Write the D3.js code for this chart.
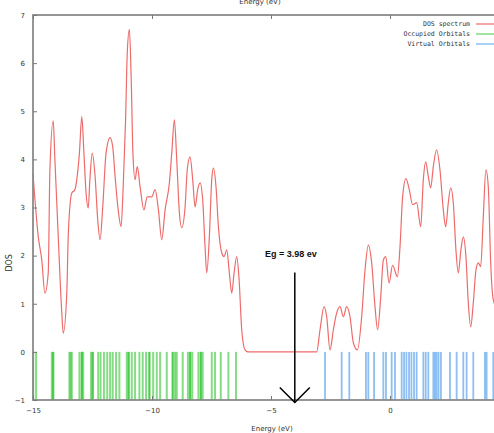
<!DOCTYPE html>
<html>
<head>
<meta charset="utf-8">
<script src="https://cdn.jsdelivr.net/npm/d3@7"></script>
<style>
  body { margin: 0; background: #fff; overflow: hidden; }
  .tick text { font-family: 'DejaVu Sans', sans-serif; font-size: 7px; fill: #333; }
  .legend text { font-family: 'DejaVu Sans Mono', monospace; font-size: 6.5px; fill: #333; }
</style>
</head>
<body>
<div id="chart"></div>
<script>
// DOS spectrum (energy in eV, DOS)
const dosEnergy = [-15.0, -14.78, -14.63, -14.5, -14.36, -14.29, -14.15, -14.08, -13.94, -13.79, -13.73,
  -13.58, -13.52, -13.37, -13.24, -13.16, -13.05, -12.95, -12.86, -12.77, -12.68, -12.61, -12.51, -12.39,
  -12.28, -12.18, -12.07, -11.93, -11.76, -11.65, -11.55, -11.42, -11.3, -11.21, -11.11, -11.04, -10.95,
  -10.87, -10.8, -10.71, -10.62, -10.5, -10.34, -10.2, -10.01, -9.87, -9.73, -9.59, -9.45, -9.27, -9.17,
  -9.06, -8.96, -8.85, -8.75, -8.61, -8.52, -8.4, -8.29, -8.19, -8.08, -7.98, -7.87, -7.77, -7.7, -7.59,
  -7.49, -7.42, -7.31, -7.21, -7.07, -6.97, -6.86, -6.75, -6.65, -6.55, -6.44, -6.34, -6.23, -6.09, -5.97,
  -3.08, -2.94, -2.77, -2.66, -2.52, -2.38, -2.24, -2.1, -1.96, -1.82, -1.68, -1.54, -1.37, -1.19, -1.05,
  -0.91, -0.77, -0.63, -0.52, -0.39, -0.28, -0.18, -0.04, 0.11, 0.31, 0.42, 0.53, 0.67, 0.81, 0.95, 1.12,
  1.29, 1.4, 1.5, 1.61, 1.71, 1.82, 1.96, 2.1, 2.24, 2.34, 2.45, 2.55, 2.66, 2.77, 2.87, 2.98, 3.08, 3.19,
  3.29, 3.39, 3.5, 3.61, 3.71, 3.81, 3.92, 4.03, 4.13, 4.23, 4.34, 4.5];
const dosValue = [3.7, 2.4, 1.9, 1.22, 1.64, 3.78, 4.8, 4.0, 2.4, 0.81, 0.39,
  1.22, 2.4, 3.3, 3.37, 3.58, 4.13, 4.89, 4.13, 3.3, 2.99, 3.58, 4.13, 3.64,
  2.74, 2.33, 3.01, 4.13, 4.45, 4.26, 3.64, 2.95, 2.6, 3.43, 4.82, 6.2, 6.7,
  5.6, 4.1, 3.58, 3.85, 3.43, 2.95, 3.22, 3.22, 3.37, 2.95, 2.33, 2.95, 3.51, 4.13,
  4.82, 3.99, 2.89, 2.58, 3.01, 3.78, 4.05, 3.58, 3.01, 3.37, 3.51, 3.16, 2.18, 1.64, 2.39,
  3.58, 3.82, 3.43, 2.6, 2.06, 1.98, 2.12, 1.64, 1.22, 1.64, 1.98, 1.5, 0.46, 0.04, 0.0,
  0.0, 0.46, 0.94, 0.73, 0.04, 0.46, 0.81, 0.94, 0.73, 0.94, 0.73, 0.19, 0.04, 0.73, 1.7,
  2.22, 1.85, 0.94, 0.46, 1.14, 1.91, 1.98, 1.43, 1.8, 1.56, 2.18, 3.22, 3.6, 3.37, 3.06, 3.1,
  2.6, 3.58, 3.95, 3.64, 3.41, 3.85, 4.2, 3.78, 2.95, 2.6, 3.1, 3.41, 3.1, 2.12, 1.64, 2.12, 2.39, 1.98,
  1.02, 0.52, 1.02, 1.7, 1.85, 1.77, 2.81, 3.78, 3.43, 1.85, 1.08, 0.9];

// orbital energies (eV)
const occupied = [-14.99, -14.87, -14.21, -14.15, -14.15, -13.47, -13.42, -13.37, -13.05, -12.95, -12.95,
  -12.89, -12.56, -12.49, -12.49, -12.26, -12.16, -12.02, -11.88, -11.76, -11.65, -11.51, -11.37,
  -11.06, -10.98, -10.98, -10.85, -10.71, -10.53, -10.39, -10.25, -10.11, -10.11, -9.95, -9.8, -9.66,
  -9.38, -9.13, -9.13, -9.03, -8.96, -8.71, -8.49, -8.4, -8.4, -8.31, -8.05, -7.95, -7.95, -7.87,
  -7.49, -7.35, -7.11, -6.79, -6.47];
const virtual = [-2.73, -2.03, -1.71, -1.01, -0.91, -0.67, -0.28, -0.17, 0.07, 0.21, 0.49, 0.59, 0.69,
  0.8, 0.9, 1.01, 1.12, 1.4, 1.5, 1.61, 1.82, 1.89, 1.96, 2.04, 2.14, 2.52, 2.8, 3.08, 3.22, 3.5,
  3.99, 4.06, 4.34];

const xTicks = [-15, -10, -5, 0];
const yTicks = [-1, 0, 1, 2, 3, 4, 5, 6, 7];
const legendLabels = ['DOS spectrum', 'Occupied Orbitals', 'Virtual Orbitals'];
const gapLabel = 'Eg = 3.98 ev';
const gapAt = -4;

const margin = {top: 15, left: 33},
      width = 476,
      height = 385;

const svg = d3.select('#chart').append('svg')
    .attr('width', 494)
    .attr('height', 433);

const wrapper = svg.append('g')
    .attr('transform', 'translate(' + margin.left + ',' + margin.top + ')');

const xScale = d3.scaleLinear().domain([-15, 5]).range([0, width]),
      yScale = d3.scaleLinear().domain([-1, 7]).range([height, 0]);

// orbital sticks between -1 and 0
wrapper.append('g').selectAll('line')
    .data(occupied)
  .enter().append('line')
    .attr('x1', d => xScale(d)).attr('x2', d => xScale(d))
    .attr('y1', yScale(-1)).attr('y2', yScale(0))
    .attr('stroke', '#1fbf1f')
    .attr('stroke-opacity', 0.55)
    .attr('stroke-width', 2);

wrapper.append('g').selectAll('line')
    .data(virtual)
  .enter().append('line')
    .attr('x1', d => xScale(d)).attr('x2', d => xScale(d))
    .attr('y1', yScale(-1)).attr('y2', yScale(0))
    .attr('stroke', '#2f8ae8')
    .attr('stroke-opacity', 0.55)
    .attr('stroke-width', 1.8);

const line = d3.line()
    .x((d, i) => xScale(dosEnergy[i]))
    .y(d => yScale(d))
    .curve(d3.curveMonotoneX);

wrapper.append('path')
    .datum(dosValue)
    .attr('fill', 'none')
    .attr('stroke', '#ee6b6b')
    .attr('stroke-width', 1.2)
    .attr('d', line);

// gnuplot-like frame and ticks
wrapper.append('rect')
    .attr('width', width).attr('height', height)
    .attr('fill', 'none')
    .attr('stroke', '#8a8a8a')
    .attr('stroke-width', 1.8);

wrapper.append('g')
    .attr('class', 'axis')
    .attr('transform', 'translate(0,' + height + ')')
    .call(d3.axisBottom(xScale).tickValues(xTicks).tickSizeInner(-4).tickSizeOuter(0).tickPadding(8))
    .call(g => g.select('.domain').remove())
    .call(g => g.selectAll('.tick line').attr('stroke', '#777'));

wrapper.append('g')
    .attr('class', 'axis')
    .call(d3.axisTop(xScale).tickValues(xTicks).tickSizeInner(-4).tickSizeOuter(0).tickFormat(''))
    .call(g => g.select('.domain').remove())
    .call(g => g.selectAll('.tick line').attr('stroke', '#777'));

wrapper.append('g')
    .attr('class', 'axis')
    .call(d3.axisLeft(yScale).tickValues(yTicks).tickSizeInner(-4).tickSizeOuter(0).tickPadding(8))
    .call(g => g.select('.domain').remove())
    .call(g => g.selectAll('.tick line').attr('stroke', '#777'));

// axis labels
svg.append('text')
    .attr('x', 272).attr('y', 431)
    .attr('text-anchor', 'middle')
    .style('font-family', 'DejaVu Sans, sans-serif')
    .style('font-size', '7px')
    .style('fill', '#333')
    .text('Energy (eV)');

svg.append('text')
    .attr('x', 260).attr('y', 4)
    .attr('text-anchor', 'middle')
    .style('font-family', 'DejaVu Sans, sans-serif')
    .style('font-size', '7px')
    .style('fill', '#333')
    .text('Energy (eV)');

svg.append('text')
    .attr('transform', 'translate(12,' + (margin.top + yScale(1.85)) + ') rotate(-90)')
    .attr('text-anchor', 'middle')
    .style('font-family', 'DejaVu Sans, sans-serif')
    .style('font-size', '8px')
    .style('fill', '#333')
    .text('DOS');

// band gap arrow
const ax = xScale(gapAt);
wrapper.append('line')
    .attr('x1', ax).attr('x2', ax)
    .attr('y1', yScale(1.65)).attr('y2', yScale(-1.05))
    .attr('stroke', '#000').attr('stroke-width', 1.5);

wrapper.append('path')
    .attr('d', 'M' + (ax - 15) + ',' + (yScale(-1.05) - 15) + 'L' + ax + ',' + yScale(-1.05) +
               'L' + (ax + 15) + ',' + (yScale(-1.05) - 15))
    .attr('fill', 'none')
    .attr('stroke', '#000').attr('stroke-width', 1.5);

wrapper.append('text')
    .attr('x', ax - 4).attr('y', yScale(1.98))
    .attr('text-anchor', 'middle')
    .style('font-family', 'Liberation Sans, Arial, sans-serif')
    .style('font-weight', 'bold')
    .style('font-size', '9px')
    .style('fill', '#111')
    .text(gapLabel);

// legend
const legendColors = ['#ee6b6b', '#5fd35f', '#6fb0ee'];
const legend = svg.append('g').attr('class', 'legend');
legendLabels.forEach(function(label, i) {
  const y = 24 + i * 10;
  legend.append('text')
      .attr('x', 470).attr('y', y + 2)
      .attr('text-anchor', 'end')
      .text(label);
  legend.append('line')
      .attr('x1', 476).attr('x2', 500)
      .attr('y1', y).attr('y2', y)
      .attr('stroke', legendColors[i])
      .attr('stroke-width', 1.2);
});
</script>
</body>
</html>
